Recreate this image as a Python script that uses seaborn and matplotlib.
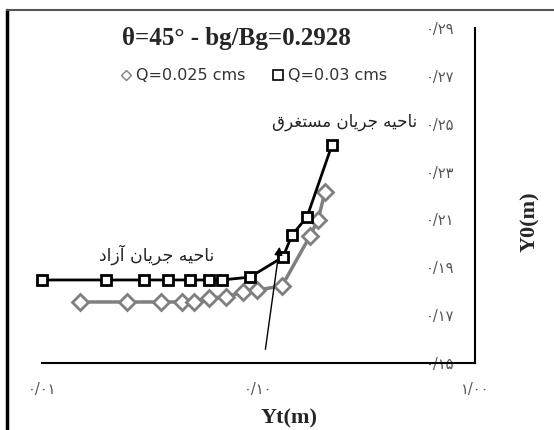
import matplotlib
matplotlib.use("Agg")
import matplotlib.pyplot as plt
from matplotlib.lines import Line2D
from matplotlib.ticker import NullLocator
import seaborn as sns
import numpy as np

# data
yt_q030 = [0.0100, 0.0198, 0.0296, 0.0382, 0.0483, 0.0591, 0.0678, 0.0913, 0.1298, 0.1428, 0.1675, 0.2185]
y0_q030 = [0.1847, 0.1847, 0.1847, 0.1847, 0.1847, 0.1847, 0.1847, 0.1859, 0.1943, 0.2035, 0.2110, 0.2411]
yt_q025 = [0.0150, 0.0247, 0.0355, 0.0443, 0.0504, 0.0591, 0.0708, 0.0848, 0.0984, 0.1284, 0.1729, 0.1883, 0.2029]
y0_q025 = [0.1755, 0.1755, 0.1755, 0.1755, 0.1755, 0.1772, 0.1776, 0.1797, 0.1805, 0.1822, 0.2031, 0.2098, 0.2215]

x_ticks = [0.01, 0.10, 1.00]
x_tick_labels = ["۰/۰۱", "۰/۱۰", "۱/۰۰"]
y_ticks = [0.15, 0.17, 0.19, 0.21, 0.23, 0.25, 0.27, 0.29]
y_tick_labels = ["۰/۱۵", "۰/۱۷", "۰/۱۹", "۰/۲۱", "۰/۲۳", "۰/۲۵", "۰/۲۷", "۰/۲۹"]

title = "θ=45° - bg/Bg=0.2928"
label_q025 = "Q=0.025 cms"
label_q030 = "Q=0.03 cms"
text_submerged = "ناحیه جریان مستغرق"
text_free = "ناحیه جریان آزاد"

# simple persian shaping (matplotlib has no shaping / bidi)
FORMS = {
    'ا': ('\uFE8D', '\uFE8E', None, None),
    'آ': ('\uFE81', '\uFE82', None, None),
    'ت': ('\uFE95', '\uFE96', '\uFE97', '\uFE98'),
    'ج': ('\uFE9D', '\uFE9E', '\uFE9F', '\uFEA0'),
    'ح': ('\uFEA1', '\uFEA2', '\uFEA3', '\uFEA4'),
    'د': ('\uFEA9', '\uFEAA', None, None),
    'ر': ('\uFEAD', '\uFEAE', None, None),
    'ز': ('\uFEAF', '\uFEB0', None, None),
    'س': ('\uFEB1', '\uFEB2', '\uFEB3', '\uFEB4'),
    'غ': ('\uFECD', '\uFECE', '\uFECF', '\uFED0'),
    'ق': ('\uFED5', '\uFED6', '\uFED7', '\uFED8'),
    'م': ('\uFEE1', '\uFEE2', '\uFEE3', '\uFEE4'),
    'ن': ('\uFEE5', '\uFEE6', '\uFEE7', '\uFEE8'),
    'ه': ('\uFEE9', '\uFEEA', '\uFEEB', '\uFEEC'),
    'ی': ('\uFBFC', '\uFBFD', '\uFBFE', '\uFBFF'),
}

def shape_fa(s):
    out = []
    for i, ch in enumerate(s):
        if ch not in FORMS:
            out.append(ch)
            continue
        prev = s[i-1] if i > 0 else ''
        nxt = s[i+1] if i + 1 < len(s) else ''
        join_prev = prev in FORMS and FORMS[prev][2] is not None
        join_next = FORMS[ch][2] is not None and nxt in FORMS
        iso, fin, ini, med = FORMS[ch]
        if join_prev and join_next:
            out.append(med)
        elif join_prev:
            out.append(fin)
        elif join_next:
            out.append(ini)
        else:
            out.append(iso)
    return ''.join(out)[::-1]

sns.set_style("white")
plt.rcParams['font.family'] = ['DejaVu Sans']

fig = plt.figure(figsize=(5.54, 4.30), dpi=100)
ax = fig.add_axes([0.0758, 0.1558, 0.7816, 0.7791])

grey = '#7f7f7f'
sns.lineplot(x=yt_q025, y=y0_q025, ax=ax, sort=False, color=grey, lw=2.5,
             marker='D', ms=8, mfc='white', mec=grey, mew=2, clip_on=False)
sns.lineplot(x=yt_q030, y=y0_q030, ax=ax, sort=False, color='black', lw=2,
             marker='s', ms=7, mfc='white', mec='black', mew=2, clip_on=False)

ax.set_xscale('log')
ax.set_xlim(0.01, 1.0)
ax.set_ylim(0.15, 0.29)
ax.set_xticks(x_ticks)
ax.set_xticklabels(x_tick_labels)
ax.xaxis.set_minor_locator(NullLocator())
ax.set_yticks(y_ticks)
ax.set_yticklabels(y_tick_labels)

for side in ['top', 'left']:
    ax.spines[side].set_visible(False)
for side in ['bottom', 'right']:
    ax.spines[side].set_visible(True)
    ax.spines[side].set_color('black')
    ax.spines[side].set_linewidth(1.5)

ax.yaxis.tick_right()
ax.tick_params(axis='y', length=0, pad=-15, labelsize=10.5, labelcolor='#555555')
ax.tick_params(axis='x', length=0, pad=14, labelsize=10.5, labelcolor='#555555')
plt.setp(ax.get_yticklabels(), ha='right')
ax.set_xlabel('')
ax.set_ylabel('')

# legend
handles = [
    Line2D([], [], ls='none', marker='D', ms=5, mfc='white', mec=grey, mew=1),
    Line2D([], [], ls='none', marker='s', ms=7.5, mfc='white', mec='black', mew=1.2),
]
ax.legend(handles, [label_q025, label_q030], ncol=2, frameon=False, loc='center',
          bbox_to_anchor=(0.49, 0.857), fontsize=11.5, handlelength=0.6,
          handletextpad=0.3, columnspacing=1.8, labelcolor='#333333')

ax.text(0.45, 0.97, title, transform=ax.transAxes, ha='center', va='center',
        family='Liberation Serif', weight='bold', fontsize=18)

ax.text(0.54, 0.2507, shape_fa(text_submerged), ha='right', va='center', fontsize=12, color='#222222')
ax.text(0.034, 0.1951, shape_fa(text_free), ha='center', va='center', fontsize=12.5, color='#222222')

ax.annotate('', xy=(0.1257, 0.1997), xytext=(0.1072, 0.1546),
            arrowprops=dict(arrowstyle='-|>', color='black', lw=1, mutation_scale=12))

fig.text(289/554, 1 - 418/430, 'Yt(m)', ha='center', va='center',
         family='Liberation Serif', weight='bold', fontsize=16)
fig.text(530/554, 1 - 222/430, 'Y0(m)', ha='center', va='center', rotation=90,
         family='Liberation Serif', weight='bold', fontsize=16)

# outer frame (left and top edges)
fig.add_artist(Line2D([7/554, 7/554], [0, 1 - 10/430], transform=fig.transFigure, color='black', lw=2.5))
fig.add_artist(Line2D([7/554, 1], [1 - 10/430, 1 - 10/430], transform=fig.transFigure, color='#555555', lw=1.5))

fig.savefig('out.png', dpi=100)
